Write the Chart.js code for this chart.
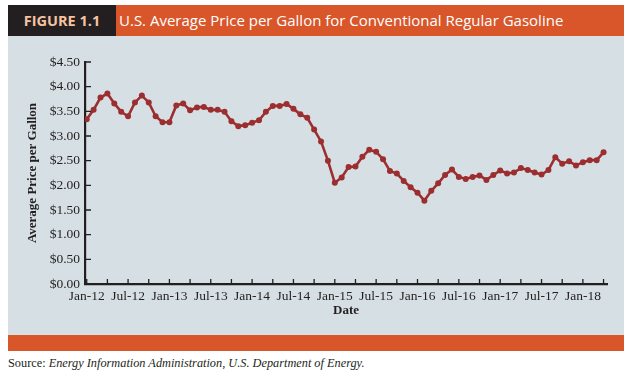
<!DOCTYPE html>
<html>
<head>
<meta charset="utf-8">
<script src="https://cdn.jsdelivr.net/npm/chart.js@4"></script>
<style>
    html, body { margin: 0; padding: 0; background: #ffffff; }
    #figure { position: relative; width: 632px; height: 377px; overflow: hidden; }
    .header { position: absolute; left: 8px; top: 5px; width: 616px; height: 31px; background: #d9562a; }
    .header .label {
        position: absolute; left: 0; top: 0; width: 108px; height: 31px; background: #231f20;
        color: #f6c3a0; font: bold 14.5px "Open Sans", sans-serif; line-height: 31px; text-align: center;
    }
    .header .title {
        position: absolute; left: 111px; top: 0; height: 31px; color: #ffffff;
        font: 15px "Open Sans", sans-serif; line-height: 31px; white-space: nowrap;
    }
    .panel { position: absolute; left: 8px; top: 36px; width: 616px; height: 299px; background: #d6e0e4; }
    .rule { position: absolute; left: 8px; top: 335px; width: 616px; height: 16px; background: #d9562a; }
    .source {
        position: absolute; left: 8px; top: 355px; color: #231f20;
        font: 12.3px "Liberation Serif", serif; line-height: 16px; white-space: nowrap;
    }
    #chart { position: absolute; left: 0; top: 0; }
</style>
</head>
<body>
<div id="figure">
    <div class="header">
        <div class="label">FIGURE 1.1</div>
        <div class="title">U.S. Average Price per Gallon for Conventional Regular Gasoline</div>
    </div>
    <div class="panel"></div>
    <div class="rule"></div>
    <div class="source">Source: <em>Energy Information Administration, U.S. Department of Energy.</em></div>
    <canvas id="chart" width="632" height="377"></canvas>
</div>
<script>
// Monthly average price per gallon
const prices2012 = [3.34, 3.53, 3.78, 3.86, 3.66, 3.49, 3.40, 3.68, 3.82, 3.68, 3.40, 3.28];
const prices2013 = [3.28, 3.62, 3.66, 3.52, 3.58, 3.59, 3.53, 3.53, 3.49, 3.30, 3.20, 3.22];
const prices2014 = [3.27, 3.32, 3.49, 3.61, 3.61, 3.65, 3.55, 3.44, 3.37, 3.13, 2.89, 2.50];
const prices2015 = [2.05, 2.16, 2.37, 2.38, 2.58, 2.72, 2.68, 2.53, 2.29, 2.24, 2.09, 1.96];
const prices2016 = [1.85, 1.69, 1.89, 2.04, 2.21, 2.32, 2.17, 2.13, 2.17, 2.20, 2.11, 2.21];
const prices2017 = [2.30, 2.24, 2.26, 2.35, 2.31, 2.26, 2.22, 2.31, 2.57, 2.44, 2.49, 2.40];
const prices2018 = [2.47, 2.51, 2.51, 2.67];

const years      = ["12", "13", "14", "15", "16", "17", "18"];
const monthNames = ["Jan", "Feb", "Mar", "Apr", "May", "Jun", "Jul", "Aug", "Sep", "Oct", "Nov", "Dec"];

// Labels shown under the axis (every six months) and the $ ticks on the left
const dateTickLabels  = ["Jan-12", "Jul-12", "Jan-13", "Jul-13", "Jan-14", "Jul-14", "Jan-15",
                         "Jul-15", "Jan-16", "Jul-16", "Jan-17", "Jul-17", "Jan-18"];
const priceTickValues = [0, 0.5, 1, 1.5, 2, 2.5, 3, 3.5, 4, 4.5];

const prices = [].concat(prices2012, prices2013, prices2014, prices2015, prices2016, prices2017, prices2018);

// Category per point, e.g. "Mar-14"
const dates = [];
years.forEach((year) => monthNames.forEach((month) => dates.push(month + "-" + year)));
dates.length = prices.length;

const INK       = "#231f20";
const LINE_RED  = "#9c2e30";
const SERIF     = "'Liberation Serif', 'Times New Roman', serif";

/**
 * Draws the small tick marks pointing into the plot area.
 */
const inwardTicks = {
    id: "inwardTicks",
    afterDatasetsDraw(chart)
    {
        const {ctx, chartArea, scales} = chart;

        ctx.save();
        ctx.strokeStyle = INK;
        ctx.lineWidth   = 1.3;
        ctx.beginPath();

        scales.x.ticks.forEach((tick) => {
            const x = scales.x.getPixelForValue(tick.value);
            ctx.moveTo(x, chartArea.bottom);
            ctx.lineTo(x, chartArea.bottom - 5);
        });

        scales.y.ticks.forEach((tick) => {
            const y = scales.y.getPixelForValue(tick.value);
            ctx.moveTo(chartArea.left, y);
            ctx.lineTo(chartArea.left + 6, y);
        });

        ctx.stroke();
        ctx.restore();
    }
};

/**
 * The gasoline price chart.
 */
class GasolinePriceChart
{
    /**
     * Constructor.
     *
     * @param {string} canvasId The id of the canvas element
     */
    constructor(canvasId)
    {
        this._canvas = document.getElementById(canvasId);
        this.draw();
    }

    /**
     * Builds the dataset from the price list.
     *
     * @returns {object[]}
     */
    points()
    {
        return prices.map((price, index) => ({ x: index, y: price }));
    }

    /**
     * Draws the chart.
     */
    draw()
    {
        this._chart = new Chart(this._canvas, {
            type: "line",
            data: {
                datasets: [{
                    data: this.points(),
                    borderColor: LINE_RED,
                    backgroundColor: LINE_RED,
                    borderWidth: 2.6,
                    pointRadius: 3,
                    pointBorderWidth: 0,
                    pointBackgroundColor: LINE_RED,
                    tension: 0
                }]
            },
            options: {
                responsive: false,
                animation: false,
                devicePixelRatio: 1,
                layout: {
                    padding: { left: 25, top: 62, right: 25, bottom: 59 }
                },
                plugins: {
                    legend: { display: false },
                    tooltip: { enabled: false }
                },
                scales: {
                    x: {
                        type: "linear",
                        min: -0.25,
                        max: 75.5,
                        afterFit: (scale) => { scale.height = 34; },
                        afterBuildTicks: (scale) => {
                            scale.ticks = [];
                            for (let m = 0; m < prices.length; m += 3) {
                                scale.ticks.push({ value: m });
                            }
                        },
                        grid: { display: false, drawTicks: false },
                        border: { display: true, color: INK, width: 2.2 },
                        ticks: {
                            autoSkip: false,
                            maxRotation: 0,
                            padding: 4,
                            color: INK,
                            font: { family: SERIF, size: 13.5 },
                            callback: (value) => (value % 6 === 0 ? dateTickLabels[value / 6] : "")
                        },
                        title: {
                            display: true,
                            text: "Date",
                            color: INK,
                            padding: 0,
                            font: { family: SERIF, size: 13, weight: "bold" }
                        }
                    },
                    y: {
                        min: 0,
                        max: 4.5,
                        afterFit: (scale) => { scale.width = 60; },
                        afterBuildTicks: (scale) => {
                            scale.ticks = priceTickValues.map((value) => ({ value: value }));
                        },
                        grid: { display: false, drawTicks: false },
                        border: { display: true, color: INK, width: 2.2 },
                        ticks: {
                            padding: 5,
                            color: INK,
                            font: { family: SERIF, size: 13.5 },
                            callback: (value) => "$" + value.toFixed(2)
                        },
                        title: {
                            display: true,
                            text: "Average Price per Gallon",
                            color: INK,
                            padding: 0,
                            font: { family: SERIF, size: 13, weight: "bold" }
                        }
                    }
                }
            },
            plugins: [inwardTicks]
        });
    }
}

new GasolinePriceChart("chart");
</script>
</body>
</html>
